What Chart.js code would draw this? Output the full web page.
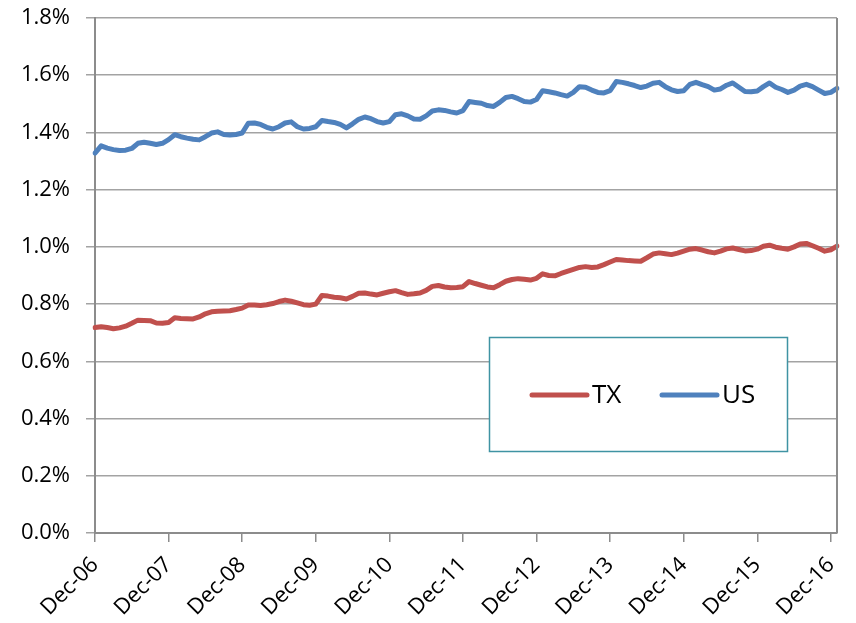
<!DOCTYPE html>
<html>
<head>
<meta charset="utf-8">
<script src="https://cdn.jsdelivr.net/npm/chart.js@4.4.0/dist/chart.umd.min.js"></script>
<style>
  html, body { margin: 0; background: #fff; }
  #wrap { width: 856px; height: 623px; }
</style>
</head>
<body>
<div id="wrap"><canvas id="rateChart" width="856" height="623"></canvas></div>
<script>
// monthly shares (%), Dec-06 through Jan-17
const txValues = [
  0.718, 0.721, 0.718, 0.714, 0.717, 0.723, 0.733, 0.744, 0.743, 0.742, 0.734, 0.733,
  0.736, 0.752, 0.750, 0.749, 0.748, 0.755, 0.766, 0.773, 0.775, 0.776, 0.777, 0.781,
  0.786, 0.797, 0.797, 0.795, 0.798, 0.802, 0.809, 0.814, 0.810, 0.804, 0.798, 0.796,
  0.800, 0.830, 0.828, 0.824, 0.822, 0.818, 0.827, 0.838, 0.839, 0.835, 0.832, 0.838,
  0.843, 0.847, 0.840, 0.834, 0.836, 0.839, 0.848, 0.862, 0.865, 0.860, 0.857, 0.858,
  0.861, 0.879, 0.872, 0.866, 0.860, 0.857, 0.868, 0.880, 0.886, 0.889, 0.887, 0.884,
  0.890, 0.906, 0.900, 0.899, 0.907, 0.914, 0.921, 0.928, 0.931, 0.928, 0.930, 0.938,
  0.947, 0.956, 0.954, 0.952, 0.951, 0.950, 0.962, 0.975, 0.979, 0.976, 0.973, 0.978,
  0.985, 0.992, 0.994, 0.989, 0.983, 0.979, 0.985, 0.993, 0.996, 0.991, 0.986, 0.987,
  0.992, 1.002, 1.006, 0.999, 0.995, 0.992, 1.000, 1.010, 1.012, 1.004, 0.995, 0.985,
  0.990, 1.003
];

const usValues = [
  1.328, 1.353, 1.345, 1.340, 1.337, 1.338, 1.344, 1.362, 1.366, 1.362, 1.358, 1.362,
  1.375, 1.392, 1.385, 1.380, 1.376, 1.374, 1.385, 1.398, 1.402, 1.393, 1.391, 1.393,
  1.398, 1.432, 1.433, 1.428, 1.418, 1.412, 1.420, 1.433, 1.437, 1.420, 1.412, 1.414,
  1.420, 1.442, 1.438, 1.435, 1.428, 1.416, 1.430, 1.446, 1.454, 1.448, 1.438, 1.433,
  1.438, 1.462, 1.465, 1.458, 1.447, 1.446, 1.458, 1.475, 1.479, 1.477, 1.472, 1.468,
  1.476, 1.508, 1.505, 1.502, 1.494, 1.491, 1.505, 1.522, 1.526, 1.518, 1.508, 1.506,
  1.515, 1.546, 1.542, 1.538, 1.532, 1.527, 1.540, 1.560, 1.558, 1.548, 1.540, 1.538,
  1.546, 1.578, 1.575, 1.570, 1.564, 1.557, 1.562, 1.572, 1.575, 1.560, 1.549, 1.543,
  1.546, 1.568, 1.575, 1.567, 1.560, 1.548, 1.552, 1.565, 1.573, 1.558, 1.543, 1.542,
  1.545, 1.560, 1.573, 1.558, 1.550, 1.540, 1.548, 1.562, 1.568, 1.560, 1.548, 1.536,
  1.540, 1.554
];

const seriesNames = ['TX', 'US'];
const seriesColors = ['#c0504d', '#4f81bd'];
const yTicks = [0, 0.2, 0.4, 0.6, 0.8, 1.0, 1.2, 1.4, 1.6, 1.8];

const monthNames = ['Jan', 'Feb', 'Mar', 'Apr', 'May', 'Jun', 'Jul', 'Aug', 'Sep', 'Oct', 'Nov', 'Dec'];
const months = [];
for (let i = 0; i < txValues.length; i++) {
  const m = (11 + i) % 12;
  const yr = 6 + Math.floor((11 + i) / 12);
  months.push(monthNames[m] + '-' + String(yr).padStart(2, '0'));
}

const FONT = 'Open Sans';
const axisGray = '#8c8c8c';

// drop the label overhang padding so the layout padding alone sets the plot box
function noOverhang(scale) {
  scale.paddingLeft = 0;
  scale.paddingRight = 0;
  scale.paddingTop = 0;
  scale.paddingBottom = 0;
}

// right-hand frame line plus the boxed legend inside the plot
const frameAndLegend = {
  id: 'frameAndLegend',
  afterDraw(chart) {
    const ctx = chart.ctx;
    const area = chart.chartArea;
    ctx.save();
    ctx.strokeStyle = axisGray;
    ctx.lineWidth = 2;
    ctx.beginPath();
    ctx.moveTo(area.right, area.top);
    ctx.lineTo(area.right, area.bottom);
    ctx.stroke();

    ctx.fillStyle = '#fff';
    ctx.fillRect(489, 337, 299, 115);
    ctx.strokeStyle = '#3f93a3';
    ctx.lineWidth = 1.5;
    ctx.strokeRect(489.5, 337.5, 298, 114);

    const items = [[532, 592], [662, 722]];
    ctx.font = '26px "' + FONT + '"';
    ctx.textBaseline = 'middle';
    ctx.lineCap = 'round';
    items.forEach(([x0, tx], i) => {
      ctx.strokeStyle = seriesColors[i];
      ctx.lineWidth = 5;
      ctx.beginPath();
      ctx.moveTo(x0, 395);
      ctx.lineTo(x0 + 55, 395);
      ctx.stroke();
      ctx.fillStyle = '#000';
      ctx.fillText(seriesNames[i], tx, 396);
    });
    ctx.restore();
  }
};

new Chart(document.getElementById('rateChart'), {
  type: 'line',
  data: {
    labels: months,
    datasets: [
      { label: seriesNames[0], data: txValues, borderColor: seriesColors[0] },
      { label: seriesNames[1], data: usValues, borderColor: seriesColors[1] }
    ]
  },
  options: {
    responsive: false,
    animation: false,
    devicePixelRatio: 1,
    layout: { padding: { top: 18, right: 19, left: 0, bottom: 0 } },
    elements: {
      point: { radius: 0 },
      line: { borderWidth: 5, tension: 0, borderJoinStyle: 'round', borderCapStyle: 'round' }
    },
    plugins: { legend: { display: false }, tooltip: { enabled: false } },
    scales: {
      x: {
        type: 'category',
        offset: false,
        afterFit(scale) { scale.height = 90; noOverhang(scale); },
        border: { color: axisGray, width: 2 },
        grid: {
          drawOnChartArea: false,
          tickLength: 9,
          lineWidth: 1.5,
          color: c => (c.index % 12 === 0 ? axisGray : 'rgba(0,0,0,0)')
        },
        ticks: {
          autoSkip: false,
          maxRotation: 45,
          minRotation: 45,
          padding: 10,
          color: '#000',
          font: { family: FONT, size: 22 },
          callback: (v, i) => (i % 12 === 0 ? months[i] : '')
        }
      },
      y: {
        min: 0,
        max: 1.8,
        afterFit(scale) { scale.width = 95; noOverhang(scale); },
        afterBuildTicks(scale) { scale.ticks = yTicks.map(v => ({ value: v })); },
        border: { color: axisGray, width: 2 },
        grid: { color: '#a3a3a3', lineWidth: 1.5, tickLength: 9 },
        ticks: {
          padding: 16,
          color: '#000',
          font: { family: FONT, size: 22 },
          callback: v => v.toFixed(1) + '%'
        }
      }
    }
  },
  plugins: [frameAndLegend]
});
</script>
</body>
</html>
